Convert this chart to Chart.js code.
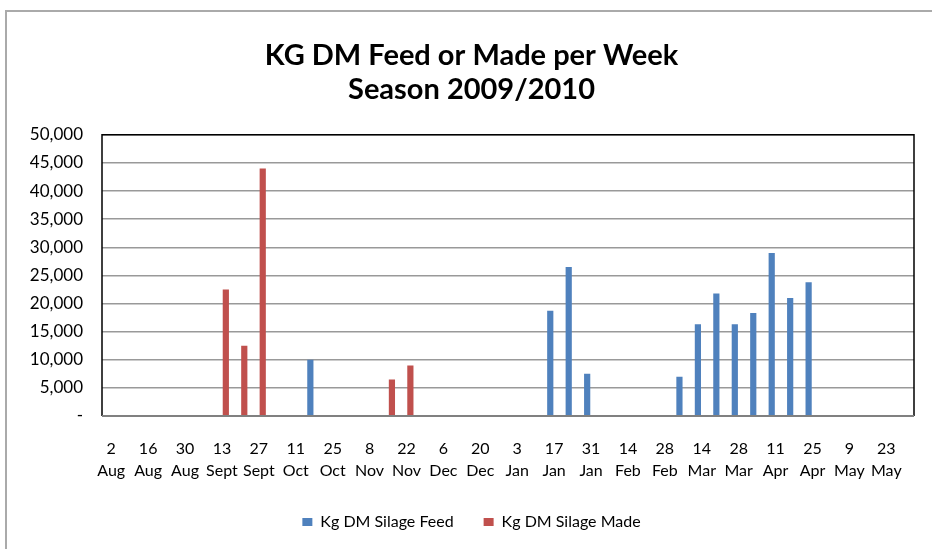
<!DOCTYPE html>
<html>
<head>
<meta charset="utf-8">
<script src="https://cdn.jsdelivr.net/npm/chart.js@4.4.1/dist/chart.umd.min.js"></script>
<style>
  html, body { margin: 0; padding: 0; background: #fff; }
  #frame {
    position: absolute; left: 5px; top: 10px; width: 940px; height: 560px;
    border-left: 2px solid #aaa; border-top: 2px solid #aaa;
  }
  #wrap { position: absolute; left: 0; top: 0; width: 932px; height: 549px; }
</style>
</head>
<body>
<div id="frame"></div>
<div id="wrap"><canvas id="chart" width="932" height="549"></canvas></div>
<script>
// weekly categories, Aug 2009 - May 2010
const weekDays = [2, 9, 16, 23, 30, 6, 13, 20, 27, 4, 11, 18, 25, 1, 8, 15, 22, 29, 6, 13, 20, 27,
  3, 10, 17, 24, 31, 7, 14, 21, 28, 7, 14, 21, 28, 4, 11, 18, 25, 2, 9, 16, 23, 30];
const weekMonths = ["Aug", "Aug", "Aug", "Aug", "Aug", "Sept", "Sept", "Sept", "Sept",
  "Oct", "Oct", "Oct", "Oct", "Nov", "Nov", "Nov", "Nov", "Nov", "Dec", "Dec", "Dec", "Dec",
  "Jan", "Jan", "Jan", "Jan", "Jan", "Feb", "Feb", "Feb", "Feb", "Mar", "Mar", "Mar", "Mar",
  "Apr", "Apr", "Apr", "Apr", "May", "May", "May", "May", "May"];

const silageFeed = [null, null, null, null, null, null, null, null, null, null, null, 10000,
  null, null, null, null, null, null, null, null, null, null, null, null, 18700, 26500, 7500,
  null, null, null, null, 7000, 16300, 21800, 16300, 18300, 29000, 21000, 23800,
  null, null, null, null, null];
const silageMade = [null, null, null, null, null, null, 22500, 12500, 44000, null, null, null,
  null, null, null, 6500, 9000, null, null, null, null, null, null, null, null, null, null,
  null, null, null, null, null, null, null, null, null, null, null, null,
  null, null, null, null, null];

const yTicks = [0, 5000, 10000, 15000, 20000, 25000, 30000, 35000, 40000, 45000, 50000];

const labels = weekDays.map((d, i) => [String(d), weekMonths[i]]);
const FONT = "Lato, 'Liberation Sans', sans-serif";

// black frame on top / right / left, grey base line
const plotBorder = {
  id: "plotBorder",
  afterDraw(chart) {
    const a = chart.chartArea, c = chart.ctx;
    c.save();
    c.lineWidth = 1.5;
    c.strokeStyle = "#000";
    c.beginPath();
    c.moveTo(a.left, a.bottom);
    c.lineTo(a.left, a.top);
    c.lineTo(a.right, a.top);
    c.lineTo(a.right, a.bottom);
    c.stroke();
    c.strokeStyle = "#808080";
    c.lineWidth = 2;
    c.beginPath();
    c.moveTo(a.left, a.bottom);
    c.lineTo(a.right, a.bottom);
    c.stroke();
    c.restore();
  }
};

new Chart(document.getElementById("chart"), {
  type: "bar",
  data: {
    labels: labels,
    datasets: [
      {
        label: "Kg DM Silage Feed",
        data: silageFeed,
        backgroundColor: "#4F81BD",
        categoryPercentage: 0.84,
        barPercentage: 0.8
      },
      {
        label: "Kg DM Silage Made",
        data: silageMade,
        backgroundColor: "#C0504D",
        categoryPercentage: 0.84,
        barPercentage: 0.8
      }
    ]
  },
  options: {
    responsive: false,
    animation: false,
    layout: { padding: { left: 29, right: 18, top: 0, bottom: 9 } },
    plugins: {
      title: {
        display: true,
        text: ["KG DM Feed or Made per Week", "Season 2009/2010"],
        color: "#000",
        font: { family: FONT, size: 29, weight: "bold", lineHeight: 1.17 },
        padding: { top: 39, bottom: 28 }
      },
      legend: {
        position: "bottom",
        labels: {
          color: "#000",
          font: { family: FONT, size: 16 },
          boxWidth: 10,
          boxHeight: 8,
          padding: 30
        }
      },
      tooltip: { enabled: false }
    },
    scales: {
      x: {
        grid: { display: false },
        border: { display: false },
        ticks: {
          color: "#000",
          font: { family: FONT, size: 16, lineHeight: 1.38 },
          autoSkip: false,
          maxRotation: 0,
          padding: 14,
          callback: function (value, index) {
            return index % 2 === 0 ? this.getLabelForValue(value) : "";
          }
        },
        afterFit: (s) => { s.height = 68; }
      },
      y: {
        min: 0,
        max: 50000,
        afterBuildTicks: (s) => { s.ticks = yTicks.map((v) => ({ value: v })); },
        grid: { color: "#999", lineWidth: 1.5, drawTicks: false },
        border: { display: false },
        ticks: {
          color: "#000",
          font: { family: FONT, size: 17 },
          padding: 19,
          callback: (v) => (v === 0 ? "-" : v.toLocaleString("en-US"))
        },
        afterFit: (s) => { s.width = 73; }
      }
    }
  },
  plugins: [plotBorder]
});
</script>
</body>
</html>
